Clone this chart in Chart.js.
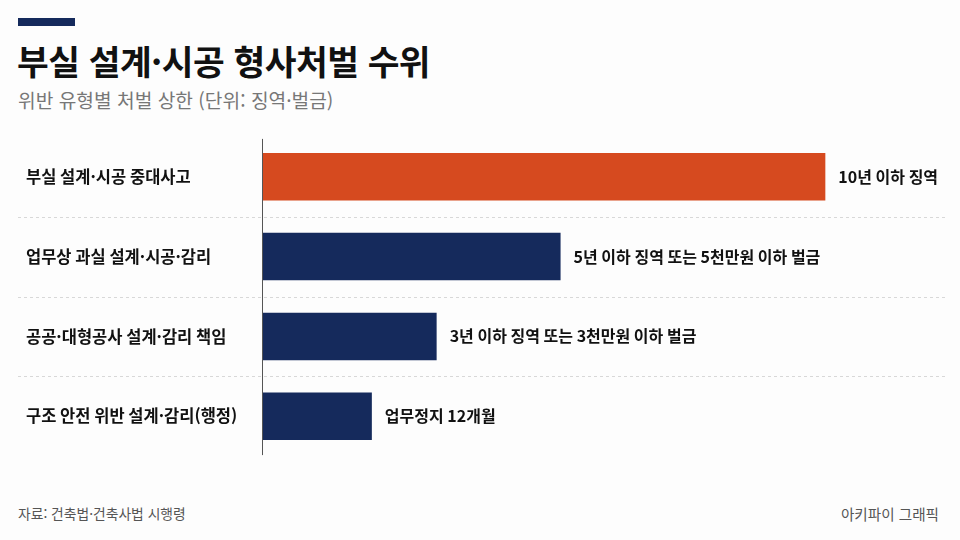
<!DOCTYPE html>
<html lang="ko">
<head>
<meta charset="utf-8">
<script src="https://cdn.jsdelivr.net/npm/chart.js@4.4.1/dist/chart.umd.min.js"></script>
<style>
  html, body { margin: 0; padding: 0; background: #fdfdfd; }
  body { width: 960px; height: 540px; position: relative; overflow: hidden;
         font-family: "Noto Sans CJK KR", "Noto Sans", sans-serif; }
  .accent { position: absolute; left: 18px; top: 18px; width: 57px; height: 8px; background: #152a5c; }
  .title { position: absolute; left: 17px; top: 35px; font-size: 34.5px; font-weight: 700; color: #111; letter-spacing: -0.5px; }
  .sub { position: absolute; left: 18px; top: 86px; font-size: 19.2px; color: #777; }
  .src { position: absolute; left: 18px; top: 503px; font-size: 13.8px; color: #555; }
  .credit { position: absolute; right: 21px; top: 503px; font-size: 14.6px; color: #555; }
  #wrap { position: absolute; left: 0; top: 124px; width: 960px; height: 345px; }
</style>
</head>
<body>
<div class="accent"></div>
<div class="title">부실 설계·시공 형사처벌 수위</div>
<div class="sub">위반 유형별 처벌 상한 (단위: 징역·벌금)</div>
<div id="wrap"><canvas id="myChart"></canvas></div>
<div class="src">자료: 건축법·건축사법 시행령</div>
<div class="credit">아키파이 그래픽</div>
<script>
// 위반 유형
var categories = ['부실 설계·시공 중대사고', '업무상 과실 설계·시공·감리', '공공·대형공사 설계·감리 책임', '구조 안전 위반 설계·감리(행정)'];
// 처벌 수위 (막대 길이, 그림에서 읽은 값)
var penaltyLevel = [10, 5.3, 3.1, 1.95];
// 막대 옆 텍스트
var penaltyText = ['10년 이하 징역', '5년 이하 징역 또는 5천만원 이하 벌금', '3년 이하 징역 또는 3천만원 이하 벌금', '업무정지 12개월'];
var barColors = ['#d64a1f', '#152a5c', '#152a5c', '#152a5c'];

// 구분 점선 + 기준선 + 막대 옆 라벨
var extras = {
    id: 'extras',
    beforeDatasetsDraw: function (chart) {
        var c = chart.ctx, y = chart.scales.y;
        c.save();
        c.strokeStyle = '#d8d8d8';
        c.lineWidth = 1;
        c.setLineDash([3, 3]);
        for (var i = 0; i < categories.length - 1; i++) {
            var yy = Math.round((y.getPixelForValue(i) + y.getPixelForValue(i + 1)) / 2) + 0.5;
            c.beginPath();
            c.moveTo(18, yy);
            c.lineTo(945, yy);
            c.stroke();
        }
        c.restore();
    },
    afterDatasetsDraw: function (chart) {
        var c = chart.ctx, area = chart.chartArea;
        c.save();
        c.strokeStyle = '#555';
        c.lineWidth = 1;
        c.beginPath();
        c.moveTo(area.left + 0.5, area.top + 2);
        c.lineTo(area.left + 0.5, area.bottom - 1);
        c.stroke();
        c.fillStyle = '#111';
        c.font = 'bold 16px "Noto Sans CJK KR", sans-serif';
        c.textBaseline = 'middle';
        chart.getDatasetMeta(0).data.forEach(function (bar, i) {
            c.fillText(penaltyText[i], bar.x + 13, bar.y);
        });
        c.restore();
    }
};

var ctx = document.getElementById('myChart').getContext('2d');
var chart = new Chart(ctx, {
    type: 'bar',
    data: {
        labels: categories,
        datasets: [{
            data: penaltyLevel,
            backgroundColor: barColors,
            borderWidth: 0,
            categoryPercentage: 0.595,
            barPercentage: 1
        }]
    },
    options: {
        indexAxis: 'y',
        responsive: true,
        maintainAspectRatio: false,
        animation: false,
        layout: { padding: { left: 26, right: 22, top: 0, bottom: 0 } },
        plugins: { legend: { display: false }, tooltip: { enabled: false } },
        scales: {
            x: {
                min: 0, max: 12,
                display: false
            },
            y: {
                grid: { display: false },
                border: { display: false },
                afterFit: function (s) { s.width = 236; },
                ticks: {
                    crossAlign: 'far',
                    color: '#111',
                    font: { family: '"Noto Sans CJK KR", sans-serif', size: 16.5, weight: 'bold' }
                }
            }
        }
    },
    plugins: [extras]
});
</script>
</body>
</html>
